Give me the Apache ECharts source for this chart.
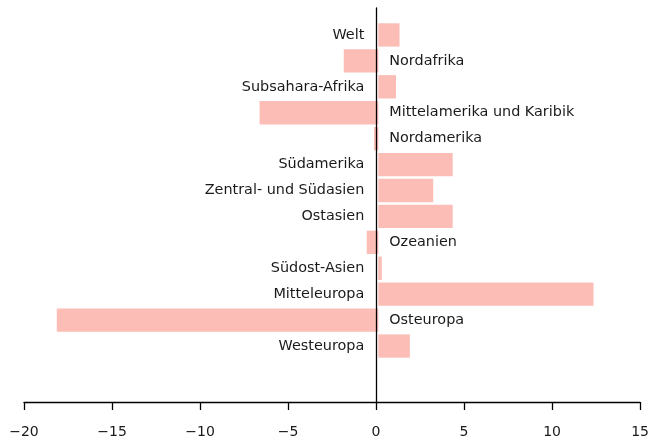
<!DOCTYPE html>
<html>
<head>
<meta charset="utf-8">
<script src="https://cdn.jsdelivr.net/npm/echarts@6/dist/echarts.min.js"></script>
<style>
  html, body { margin: 0; padding: 0; background: #fff; }
  #chart { width: 652px; height: 440px; }
</style>
</head>
<body>
<div id="chart"></div>
<script>
// Regionen von oben nach unten
const regions = [
  'Welt', 'Nordafrika', 'Subsahara-Afrika', 'Mittelamerika und Karibik',
  'Nordamerika', 'Südamerika', 'Zentral- und Südasien', 'Ostasien',
  'Ozeanien', 'Südost-Asien', 'Mitteleuropa', 'Osteuropa', 'Westeuropa'
];
const values = [1.2, -1.95, 1.0, -6.7, -0.24, 4.2, 3.1, 4.2, -0.65, 0.2, 12.15, -18.15, 1.78];
const xTicks = [-20, -15, -10, -5, 0, 5, 10, 15];

const font = 'DejaVu Sans';
const chart = echarts.init(document.getElementById('chart'));

// Beschriftung jeweils auf der anderen Seite der Nulllinie
const barData = values.map(function (v) {
  return {
    value: v,
    label: v >= 0 ? { position: 'left', distance: 14 } : { position: 'right', distance: 11 }
  };
});

const option = {
  animation: false,
  grid: [
    { left: 24, right: 8, top: 22, bottom: 81 },
    { left: 24, right: 8, top: 8, bottom: 38 }
  ],
  xAxis: [
    { gridIndex: 0, type: 'value', min: xTicks[0], max: xTicks[xTicks.length - 1], interval: 5, show: false },
    {
      gridIndex: 1, type: 'value', min: xTicks[0], max: xTicks[xTicks.length - 1], interval: 5,
      axisLine: { onZero: false, lineStyle: { color: '#000', width: 1.3 } },
      axisTick: { length: 8, lineStyle: { color: '#000', width: 1.3 } },
      splitLine: { show: false },
      axisLabel: {
        margin: 23, color: '#1a1a1a', fontFamily: font, fontSize: 14,
        formatter: function (v) { return String(v).replace('-', '\u2212'); }
      }
    }
  ],
  yAxis: [
    { gridIndex: 0, type: 'category', inverse: true, data: regions, show: false },
    {
      gridIndex: 1, type: 'value', min: 0, max: 1, z: 5,
      axisLine: { show: true, onZero: true, lineStyle: { color: '#000', width: 1.3 } },
      axisTick: { show: false }, axisLabel: { show: false }, splitLine: { show: false }
    }
  ],
  series: [
    {
      type: 'bar',
      xAxisIndex: 0,
      yAxisIndex: 0,
      data: barData,
      barCategoryGap: '10%',
      itemStyle: { color: '#fbbdb6' },
      label: {
        show: true,
        color: '#1a1a1a',
        fontFamily: font,
        fontSize: 14.4,
        formatter: function (p) { return p.name; }
      }
    }
  ]
};

chart.setOption(option);
</script>
</body>
</html>
